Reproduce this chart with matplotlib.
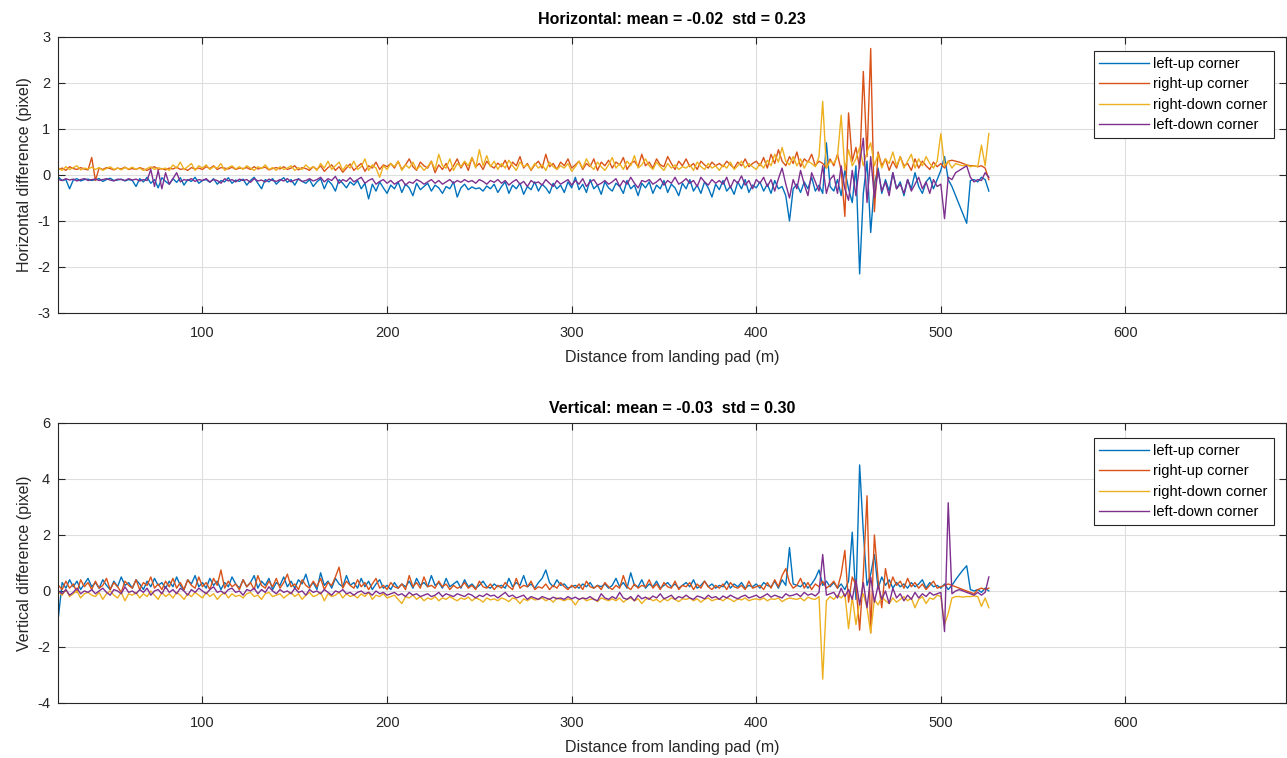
import numpy as np
import matplotlib
matplotlib.use("Agg")
import matplotlib.pyplot as plt

plt.rcParams['font.family'] = ['Liberation Sans', 'DejaVu Sans']
plt.rcParams['axes.unicode_minus'] = False

# distance grid (m): 22, 24, ..., 526
distance = np.arange(22, 527, 2)

labels = ["left-up corner", "right-up corner", "right-down corner", "left-down corner"]
colors = ["#0072BD", "#D95319", "#EDB120", "#7E2F8E"]

h_title = "Horizontal: mean = -0.02  std = 0.23"
v_title = "Vertical: mean = -0.03  std = 0.30"

# ---------------- Horizontal differences (pixel) ----------------
h_left_up = [
    -0.05, -0.12, -0.10, -0.30, -0.11, -0.08, -0.13, -0.10, -0.09, -0.12,
    -0.10, -0.08, -0.14, -0.10, -0.07, -0.12, -0.11, -0.09, -0.13, -0.10,
    -0.12, -0.25, -0.08, -0.15, -0.05, -0.18, -0.10, -0.28, -0.06, -0.14,
    -0.20, -0.08, -0.16, -0.06, -0.22, -0.10, -0.14, -0.05, -0.18, -0.12,
    -0.10, -0.16, -0.08, -0.20, -0.12, -0.15, -0.06, -0.18, -0.11, -0.14,
    -0.09, -0.22, -0.12, -0.05, -0.18, -0.30, -0.10, -0.15, -0.08, -0.20,
    -0.12, -0.06, -0.16, -0.10, -0.22, -0.08, -0.14, -0.18, -0.10, -0.25,
    -0.15, -0.08, -0.30, -0.12, -0.20, -0.35, -0.10, -0.18, -0.28, -0.15,
    -0.22, -0.12, -0.30, -0.18, -0.52, -0.20, -0.35, -0.15, -0.28, -0.40,
    -0.22, -0.30, -0.15, -0.38, -0.20, -0.28, -0.45, -0.18, -0.32, -0.25,
    -0.18, -0.35, -0.22, -0.28, -0.40, -0.25, -0.30, -0.15, -0.48, -0.28,
    -0.20, -0.32, -0.26, -0.30, -0.28, -0.35, -0.24, -0.30, -0.20, -0.38,
    -0.25, -0.15, -0.40, -0.22, -0.30, -0.18, -0.42, -0.25, -0.32, -0.15,
    -0.35, -0.20, -0.28, -0.40, -0.18, -0.30, -0.22, -0.38, -0.15, -0.28,
    -0.05, -0.32, -0.20, -0.38, -0.10, -0.30, -0.22, -0.42, -0.15, -0.28,
    -0.35, -0.18, -0.25, -0.40, -0.12, -0.30, -0.22, -0.45, -0.18, -0.28,
    -0.15, -0.40, -0.22, -0.30, -0.12, -0.38, -0.20, -0.28, -0.45, -0.18,
    -0.30, -0.10, -0.35, -0.22, -0.40, -0.15, -0.28, -0.48, -0.20, -0.32,
    -0.12, -0.35, -0.25, -0.42, -0.15, -0.30, -0.10, -0.38, -0.22, -0.28,
    -0.15, -0.35, -0.20, -0.40, -0.12, -0.30, -0.25, -0.45, -1.00, -0.30,
    -0.20, -0.38, -0.15, -0.30, -0.05, -0.35, -0.22, -0.40, 0.70, -0.25,
    -0.35, -0.10, -0.45, 0.10, -0.30, -0.60, 0.20, -2.15, -0.40, 0.30,
    -1.25, -0.20, 0.15, -0.40, -0.10, -0.35, 0.05, -0.30, -0.15, -0.45,
    -0.10, -0.30, 0.05, -0.25, -0.40, -0.15, -0.05, -0.30, -0.10, 0.10,
    0.40, -0.10, -0.25, -0.45, -0.65, -0.85, -1.05, -0.12, -0.10, -0.15,
    -0.05, -0.10, -0.35,
]
h_right_up = [
    0.12, 0.15, 0.10, 0.18, 0.14, 0.12, 0.16, 0.13, 0.11, 0.38,
    -0.12, 0.15, 0.12, 0.16, 0.14, 0.11, 0.15, 0.13, 0.17, 0.12,
    0.14, 0.12, 0.16, 0.13, 0.10, 0.15, 0.18, 0.12, 0.14, 0.11,
    0.15, 0.13, 0.17, 0.12, 0.14, 0.10, 0.16, 0.13, 0.15, 0.12,
    0.18, 0.14, 0.20, 0.12, 0.16, 0.15, 0.13, 0.17, 0.12, 0.15,
    0.14, 0.16, 0.12, 0.18, 0.13, 0.15, 0.17, 0.11, 0.14, 0.16,
    0.13, 0.18, 0.12, 0.15, 0.20, 0.11, 0.16, 0.14, 0.10, 0.18,
    0.12, 0.20, 0.08, 0.16, 0.22, 0.10, 0.18, 0.06, 0.15, 0.24,
    0.10, 0.18, 0.25, 0.08, 0.20, 0.15, 0.28, 0.12, 0.22, 0.18,
    0.25, 0.15, 0.30, 0.12, 0.22, 0.35, 0.18, 0.10, 0.28, 0.20,
    0.15, 0.30, 0.05, 0.22, 0.12, 0.25, 0.08, 0.20, 0.35, 0.15,
    0.28, 0.10, 0.38, 0.18, 0.25, 0.12, 0.30, 0.20, 0.15, 0.26,
    0.18, 0.32, 0.12, 0.28, 0.20, 0.40, 0.15, 0.25, 0.10, 0.22,
    0.30, 0.15, 0.45, 0.18, 0.25, 0.12, 0.28, 0.20, 0.35, 0.15,
    0.22, 0.30, 0.12, 0.25, 0.18, 0.35, 0.10, 0.28, 0.20, 0.32,
    0.15, 0.28, 0.22, 0.38, 0.12, 0.25, 0.30, 0.18, 0.45, 0.20,
    0.28, 0.15, 0.35, 0.22, 0.18, 0.40, 0.25, 0.12, 0.30, 0.20,
    0.35, 0.18, 0.25, 0.12, 0.30, 0.22, 0.15, 0.28, 0.20, 0.25,
    0.18, 0.30, 0.22, 0.15, 0.28, 0.20, 0.35, 0.18, 0.25, 0.30,
    0.20, 0.38, 0.15, 0.45, 0.25, 0.55, 0.30, 0.20, 0.40, 0.25,
    0.50, 0.18, 0.35, 0.28, 0.45, 0.20, 0.30, 0.25, 0.15, 0.35,
    0.20, 0.45, 0.10, -0.90, 1.35, 0.30, 0.60, 0.15, 2.25, 0.40,
    2.75, -0.80, 0.50, 0.20, 0.35, 0.10, 0.30, 0.15, 0.40, 0.20,
    0.25, 0.10, 0.35, 0.15, 0.30, 0.20, 0.12, 0.28, 0.18, 0.25,
    0.15, 0.30, 0.32, 0.30, 0.28, 0.25, 0.22, 0.20, 0.20, 0.18,
    0.20, 0.15, -0.10,
]
h_right_down = [
    0.15, 0.10, 0.18, 0.12, 0.16, 0.20, 0.11, 0.15, 0.13, 0.17,
    0.12, 0.16, 0.10, 0.14, 0.18, 0.12, 0.15, 0.11, 0.16, 0.13,
    0.17, 0.12, 0.15, 0.10, 0.14, 0.18, 0.12, 0.16, 0.13, 0.15,
    0.10, 0.22, 0.15, 0.28, 0.12, 0.18, 0.25, 0.10, 0.20, 0.15,
    0.22, 0.12, 0.18, 0.15, 0.25, 0.10, 0.16, 0.20, 0.13, 0.18,
    0.12, 0.20, 0.15, 0.10, 0.18, 0.14, 0.22, 0.12, 0.16, 0.10,
    0.18, 0.12, 0.15, 0.20, 0.10, 0.16, 0.12, 0.22, 0.14, 0.18,
    0.10, 0.25, 0.15, 0.30, 0.12, 0.20, 0.28, 0.10, 0.22, 0.15,
    0.30, 0.12, 0.18, 0.35, 0.10, 0.22, 0.15, -0.05, 0.20, 0.12,
    0.25, 0.18, 0.30, 0.10, 0.22, 0.15, 0.28, 0.12, 0.20, 0.10,
    0.18, 0.30, 0.12, 0.45, 0.20, 0.15, 0.35, 0.10, 0.25, 0.18,
    0.30, 0.20, 0.38, 0.15, 0.55, 0.20, 0.42, 0.18, 0.30, 0.12,
    0.25, 0.15, 0.32, 0.20, 0.10, 0.28, 0.18, 0.22, 0.12, 0.25,
    0.15, 0.22, 0.10, 0.28, 0.18, 0.12, 0.20, 0.15, 0.25, 0.08,
    0.18, 0.30, 0.15, 0.35, 0.20, 0.12, 0.28, 0.18, 0.10, 0.22,
    0.38, 0.15, 0.25, 0.12, 0.30, 0.20, 0.42, 0.15, 0.22, 0.35,
    0.20, 0.12, 0.28, 0.18, 0.10, 0.25, 0.15, 0.22, 0.12, 0.18,
    0.15, 0.22, 0.10, 0.28, 0.18, 0.12, 0.25, 0.15, 0.20, 0.10,
    0.22, 0.15, 0.28, 0.12, 0.20, 0.30, 0.15, 0.25, 0.18, 0.12,
    0.25, 0.15, 0.32, 0.20, 0.45, 0.28, 0.60, 0.30, 0.22, 0.40,
    0.20, 0.35, 0.15, 0.30, 0.25, 0.18, 0.40, 1.60, 0.15, 0.30,
    0.25, 0.40, 1.30, 0.10, 0.55, 0.20, 0.35, 0.60, 0.20, 0.50,
    0.70, 0.20, 0.45, 0.15, 0.35, 0.25, 0.50, 0.20, 0.40, 0.15,
    0.30, 0.45, 0.15, 0.35, 0.20, 0.40, 0.25, 0.15, 0.30, 0.90,
    0.20, 0.30, 0.15, 0.25, 0.22, 0.20, 0.22, 0.18, 0.20, 0.18,
    0.65, 0.20, 0.90,
]
h_left_down = [
    -0.10, -0.12, -0.08, -0.11, -0.09, -0.13, -0.10, -0.08, -0.12, -0.10,
    -0.09, -0.12, -0.10, -0.08, -0.11, -0.13, -0.09, -0.10, -0.12, -0.08,
    -0.11, -0.09, -0.13, -0.10, -0.12, 0.12, -0.25, 0.10, -0.30, 0.05,
    -0.20, -0.08, 0.05, -0.15, -0.10, -0.12, -0.08, -0.14, -0.10, -0.12,
    -0.08, -0.15, -0.10, -0.12, -0.18, -0.08, -0.13, -0.10, -0.15, -0.09,
    -0.12, -0.10, -0.16, -0.08, -0.13, -0.11, -0.15, -0.09, -0.12, -0.14,
    -0.10, -0.13, -0.08, -0.15, -0.11, -0.09, -0.14, -0.12, -0.08, -0.13,
    -0.10, -0.05, -0.15, -0.08, -0.12, -0.03, -0.18, -0.10, -0.14, -0.06,
    -0.15, -0.10, -0.05, -0.18, -0.12, -0.08, -0.20, -0.14, -0.10, -0.18,
    -0.12, -0.20, -0.15, -0.10, -0.22, -0.15, -0.18, -0.10, -0.14, -0.20,
    -0.15, -0.10, -0.18, -0.12, -0.20, -0.15, -0.10, -0.18, -0.12, -0.16,
    -0.10, -0.15, -0.12, -0.18, -0.10, -0.14, -0.20, -0.12, -0.16, -0.10,
    -0.18, -0.12, -0.22, -0.15, -0.10, -0.20, -0.14, -0.25, -0.12, -0.18,
    -0.15, -0.22, -0.10, -0.18, -0.25, -0.12, -0.20, -0.15, -0.10, -0.22,
    -0.12, -0.20, -0.08, -0.25, -0.15, -0.10, -0.22, -0.18, -0.12, -0.20,
    -0.15, -0.08, -0.25, -0.12, -0.20, -0.05, -0.18, -0.28, -0.12, -0.15,
    -0.10, -0.20, -0.15, -0.08, -0.22, -0.12, -0.18, -0.05, -0.20, -0.15,
    -0.08, -0.18, -0.12, -0.25, -0.05, -0.15, -0.22, -0.10, -0.18, -0.12,
    -0.20, -0.05, -0.28, -0.10, -0.18, -0.02, -0.22, -0.12, -0.30, -0.10,
    -0.18, -0.05, -0.25, -0.10, -0.35, -0.08, 0.15, -0.20, -0.50, -0.10,
    -0.30, 0.10, -0.20, -0.45, 0.05, -0.15, -0.35, 0.20, -0.40, -0.10,
    0.00, -0.40, 0.20, -0.30, -0.55, 0.10, -0.45, 0.25, 0.80, -0.60,
    0.40, -0.50, 0.10, -0.35, -0.15, -0.45, 0.05, -0.30, -0.20, -0.40,
    -0.10, -0.35, -0.20, -0.05, -0.30, -0.15, -0.40, -0.10, -0.25, -0.20,
    -0.95, -0.05, -0.10, 0.05, 0.10, 0.15, 0.20, -0.05, -0.15, -0.10,
    -0.12, 0.05, -0.05,
]

# ---------------- Vertical differences (pixel) ----------------
v_left_up = [
    -0.90, 0.30, 0.10, 0.40, 0.15, 0.35, 0.05, 0.25, 0.45, 0.15,
    0.30, 0.10, 0.40, 0.20, 0.05, 0.35, 0.15, 0.50, 0.20, 0.30,
    0.10, 0.40, 0.25, 0.05, 0.35, 0.15, 0.45, 0.20, 0.30, 0.10,
    0.35, 0.15, 0.50, 0.20, 0.05, 0.40, 0.25, 0.55, 0.15, 0.30,
    0.10, 0.45, 0.20, 0.35, 0.05, 0.30, 0.15, 0.50, 0.25, 0.10,
    0.40, 0.15, 0.30, 0.55, 0.10, 0.35, 0.20, 0.45, 0.05, 0.30,
    0.20, 0.50, 0.15, 0.35, 0.10, 0.40, 0.25, 0.60, 0.15, 0.30,
    0.05, 0.65, 0.20, 0.35, 0.10, 0.45, 0.25, 0.15, 0.55, 0.20,
    0.30, 0.10, 0.45, 0.15, 0.35, 0.05, 0.25, 0.40, 0.10, 0.20,
    0.05, 0.30, 0.10, 0.25, 0.15, 0.35, 0.10, 0.45, 0.20, 0.30,
    0.15, 0.55, 0.20, 0.30, 0.10, 0.45, 0.15, 0.25, 0.35, 0.10,
    0.40, 0.15, 0.25, 0.10, 0.20, 0.35, 0.15, 0.10, 0.25, 0.15,
    0.20, 0.10, 0.45, 0.15, 0.30, 0.20, 0.55, 0.15, 0.25, 0.10,
    0.30, 0.45, 0.75, 0.30, 0.15, 0.40, 0.20, 0.25, 0.10, 0.15,
    0.20, 0.10, 0.25, 0.15, 0.30, 0.10, 0.20, 0.15, 0.25, 0.10,
    0.20, 0.45, 0.15, 0.30, 0.10, 0.65, 0.20, 0.15, 0.40, 0.10,
    0.25, 0.15, 0.35, 0.10, 0.20, 0.30, 0.15, 0.25, 0.10, 0.20,
    0.30, 0.15, 0.40, 0.10, 0.20, 0.35, 0.15, 0.25, 0.10, 0.20,
    0.15, 0.35, 0.10, 0.25, 0.15, 0.30, 0.10, 0.20, 0.15, 0.25,
    0.10, 0.30, 0.20, 0.15, 0.35, 0.10, 0.40, 0.20, 1.55, 0.25,
    0.20, 0.15, 0.30, 0.10, 0.25, 0.45, 0.75, 0.20, 0.35, 0.15,
    0.30, 0.10, 0.25, 0.05, 0.35, 2.10, -0.30, 4.50, 2.10, 0.20,
    0.60, 1.30, 0.10, 0.50, 0.20, 0.40, 0.10, 0.30, 0.15, 0.25,
    0.10, 0.30, 0.15, 0.25, 0.40, 0.10, 0.30, 0.15, 0.20, 0.10,
    0.25, 0.05, 0.20, 0.40, 0.58, 0.75, 0.90, 0.05, 0.00, 0.05,
    -0.05, 0.10, 0.00,
]
v_right_up = [
    0.20, 0.05, 0.35, 0.10, 0.25, -0.05, 0.40, 0.15, 0.30, 0.05,
    0.35, 0.10, 0.20, 0.45, 0.05, 0.30, 0.15, -0.05, 0.35, 0.20,
    0.10, 0.40, 0.05, 0.30, 0.20, 0.50, 0.10, 0.25, 0.05, 0.35,
    0.15, 0.45, 0.10, 0.30, 0.05, 0.40, 0.20, 0.10, 0.50, 0.15,
    0.30, 0.05, 0.45, 0.20, 0.75, 0.10, 0.35, 0.15, 0.25, 0.05,
    0.40, 0.15, 0.30, 0.05, 0.55, 0.20, 0.10, 0.35, 0.15, 0.45,
    0.10, 0.30, 0.60, 0.15, 0.25, 0.05, 0.40, 0.20, 0.10, 0.35,
    0.15, 0.45, 0.05, 0.30, 0.20, 0.50, 0.85, 0.10, 0.35, 0.20,
    0.10, 0.40, 0.15, 0.30, 0.05, 0.25, 0.45, 0.10, 0.20, 0.05,
    0.30, 0.15, 0.10, 0.25, 0.05, 0.55, 0.15, 0.30, 0.10, 0.50,
    0.15, 0.20, 0.10, 0.35, 0.15, 0.25, 0.05, 0.20, 0.10, 0.15,
    0.30, 0.10, 0.20, 0.05, 0.35, 0.15, 0.10, 0.25, 0.05, 0.20,
    0.10, 0.30, 0.15, 0.05, 0.45, 0.10, 0.20, 0.15, 0.35, 0.05,
    0.15, 0.10, 0.25, 0.05, 0.20, 0.10, 0.30, 0.15, 0.05, 0.20,
    0.10, 0.25, 0.05, 0.35, 0.15, 0.10, 0.20, 0.05, 0.30, 0.15,
    0.05, 0.20, 0.10, 0.55, 0.15, 0.05, 0.25, 0.10, 0.20, 0.15,
    0.40, 0.10, 0.25, 0.05, 0.30, 0.15, 0.10, 0.35, 0.05, 0.20,
    0.15, 0.30, 0.05, 0.25, 0.10, 0.35, 0.15, 0.05, 0.20, 0.10,
    0.25, 0.05, 0.30, 0.15, 0.10, 0.20, 0.05, 0.35, 0.10, 0.15,
    0.20, 0.05, 0.30, 0.10, 0.40, 0.15, 0.55, 0.80, 0.30, 0.10,
    0.20, 0.45, 0.10, 0.30, 0.05, 0.25, 0.15, 0.35, 0.10, 0.20,
    0.35, 0.10, 0.60, 1.45, -0.40, 0.50, 0.20, -1.40, 0.60, 3.40,
    -1.50, 2.00, 0.40, -0.60, 0.80, 0.10, 0.50, 0.20, 0.35, 0.10,
    0.45, 0.15, 0.30, 0.10, 0.25, 0.05, 0.20, 0.35, 0.10, 0.15,
    0.20, 0.25, 0.20, 0.15, 0.10, 0.05, 0.00, -0.05, -0.10, 0.05,
    0.10, 0.05, 0.10,
]
v_right_down = [
    -0.05, -0.15, 0.05, -0.20, -0.10, 0.00, -0.25, -0.10, -0.05, -0.15,
    -0.20, -0.05, -0.30, -0.10, 0.00, -0.15, -0.25, -0.05, -0.35, -0.10,
    -0.15, -0.05, -0.25, -0.10, -0.20, 0.00, -0.15, -0.30, -0.05, -0.20,
    -0.10, -0.25, -0.05, -0.15, -0.30, -0.10, -0.20, -0.05, -0.15, -0.25,
    -0.05, -0.20, -0.10, -0.30, -0.15, -0.05, -0.25, -0.10, -0.20, -0.15,
    -0.25, -0.10, -0.05, -0.20, -0.15, -0.30, -0.10, -0.05, -0.20, -0.15,
    -0.10, -0.25, -0.15, -0.05, -0.20, -0.10, -0.30, -0.15, -0.05, -0.20,
    -0.15, -0.05, -0.35, -0.10, -0.20, -0.15, -0.05, -0.25, -0.10, -0.20,
    -0.15, -0.25, -0.10, -0.20, -0.05, -0.30, -0.15, -0.20, -0.10, -0.25,
    -0.20, -0.15, -0.30, -0.45, -0.20, -0.25, -0.15, -0.30, -0.20, -0.35,
    -0.25, -0.30, -0.20, -0.35, -0.25, -0.30, -0.20, -0.28, -0.35, -0.25,
    -0.30, -0.22, -0.35, -0.25, -0.30, -0.40, -0.25, -0.32, -0.28, -0.35,
    -0.25, -0.30, -0.38, -0.25, -0.30, -0.45, -0.28, -0.35, -0.25, -0.32,
    -0.30, -0.25, -0.35, -0.28, -0.40, -0.25, -0.30, -0.35, -0.28, -0.32,
    -0.50, -0.30, -0.25, -0.35, -0.30, -0.28, -0.38, -0.25, -0.30, -0.35,
    -0.28, -0.35, -0.25, -0.40, -0.30, -0.25, -0.35, -0.28, -0.45, -0.30,
    -0.25, -0.35, -0.30, -0.40, -0.28, -0.35, -0.25, -0.30, -0.38, -0.28,
    -0.30, -0.25, -0.35, -0.28, -0.40, -0.30, -0.25, -0.35, -0.30, -0.28,
    -0.35, -0.25, -0.30, -0.38, -0.28, -0.32, -0.25, -0.35, -0.30, -0.28,
    -0.32, -0.25, -0.35, -0.28, -0.30, -0.25, -0.38, -0.30, -0.25, -0.28,
    -0.30, -0.25, -0.35, -0.22, -0.28, -0.30, -0.20, -3.15, -0.35, -0.20,
    -0.30, -0.15, -0.25, -0.10, -1.35, -0.20, -1.20, -0.40, -0.10, -0.60,
    -1.50, -0.30, -0.50, -0.20, -0.35, -0.45, -0.25, -0.40, -0.30, -0.20,
    -0.35, -0.25, -0.60, -0.30, -0.20, -0.45, -0.25, -0.30, -0.15, -0.20,
    -1.20, -0.80, -0.25, -0.20, -0.20, -0.22, -0.20, -0.20, -0.18, -0.20,
    -0.55, -0.25, -0.60,
]
v_left_down = [
    0.00, -0.10, 0.05, -0.15, -0.05, 0.10, -0.10, 0.00, -0.05, 0.05,
    -0.10, 0.00, 0.10, -0.05, -0.15, 0.05, 0.00, -0.10, 0.15, -0.05,
    0.00, -0.10, 0.05, -0.05, 0.10, -0.15, 0.00, 0.05, -0.10, 0.15,
    -0.05, 0.05, -0.10, 0.10, 0.00, -0.15, 0.05, -0.05, 0.10, 0.00,
    -0.10, 0.05, 0.15, -0.05, 0.00, -0.10, 0.05, 0.10, -0.05, 0.00,
    -0.15, 0.05, 0.00, 0.10, -0.10, 0.05, -0.05, 0.15, 0.00, -0.10,
    0.05, -0.05, 0.00, -0.10, 0.10, -0.05, 0.00, -0.15, 0.05, -0.05,
    0.00, -0.10, 0.05, -0.05, -0.15, 0.00, -0.05, 0.05, -0.10, -0.05,
    -0.15, -0.05, 0.00, -0.10, -0.05, -0.15, 0.00, -0.10, -0.05, -0.15,
    -0.10, -0.05, -0.15, -0.10, -0.20, -0.05, -0.15, -0.10, -0.20, -0.15,
    -0.10, -0.20, -0.15, -0.05, -0.20, -0.10, -0.15, -0.20, -0.10, -0.15,
    -0.20, -0.10, -0.15, -0.25, -0.15, -0.20, -0.10, -0.18, -0.15, -0.25,
    -0.15, -0.05, -0.20, -0.15, -0.25, -0.20, -0.15, -0.30, -0.20, -0.25,
    -0.30, -0.20, -0.25, -0.30, -0.22, -0.28, -0.25, -0.30, -0.20, -0.28,
    -0.22, -0.30, -0.25, -0.28, -0.20, -0.30, -0.35, -0.10, -0.25, -0.30,
    -0.20, -0.28, -0.05, -0.25, -0.30, -0.20, -0.35, -0.15, -0.28, -0.22,
    -0.30, -0.18, -0.25, -0.10, -0.28, -0.22, -0.15, -0.30, -0.20, -0.25,
    -0.15, -0.25, -0.30, -0.18, -0.22, -0.28, -0.15, -0.25, -0.20, -0.30,
    -0.18, -0.25, -0.15, -0.22, -0.28, -0.20, -0.15, -0.25, -0.20, -0.15,
    -0.25, -0.18, -0.10, -0.22, -0.15, -0.20, -0.25, -0.10, -0.18, -0.15,
    -0.10, -0.20, -0.05, -0.15, -0.10, -0.18, -0.05, 1.30, -0.15, -0.10,
    -0.05, -0.25, 0.10, -0.20, 0.05, -0.30, 0.40, -0.50, 0.30, -0.60,
    0.50, -0.40, 0.20, -0.30, 0.00, -0.45, 0.10, -0.25, -0.10, -0.35,
    -0.15, -0.30, -0.05, -0.25, -0.10, -0.20, -0.05, -0.15, -0.10, -0.05,
    -1.45, 3.15, -0.10, 0.00, 0.05, 0.00, -0.05, -0.10, -0.15, -0.05,
    -0.15, -0.05, 0.50,
]

x_ticks = [100, 200, 300, 400, 500, 600]
h_yticks = [-3, -2, -1, 0, 1, 2, 3]
v_yticks = [-4, -2, 0, 2, 4, 6]

fig = plt.figure(figsize=(12.87, 7.58), dpi=100)
ax1 = fig.add_axes([0.04545, 0.5871, 0.9538, 0.3641])
ax2 = fig.add_axes([0.04545, 0.0726, 0.9538, 0.3694])

def style(ax, series, title, ylabel, yticks, ylim, leg_y, title_pad):
    for ys, c, lab in zip(series, colors, labels):
        ax.plot(distance, ys, color=c, lw=1.0, label=lab)
    ax.set_xlim(22, 687)
    ax.set_ylim(*ylim)
    ax.set_xticks(x_ticks)
    ax.set_yticks(yticks)
    ax.grid(True, color='#dedede', lw=0.8)
    ax.set_axisbelow(True)
    ax.tick_params(direction='in', top=True, right=True, length=5, width=0.8,
                   labelsize=10.5, colors='#262626')
    ax.tick_params(axis='x', pad=9.5)
    ax.tick_params(axis='y', pad=6)
    for sp in ax.spines.values():
        sp.set_color('#262626')
        sp.set_linewidth(0.8)
    ax.set_title(title, fontsize=11.5, fontweight='bold', pad=title_pad)
    ax.set_ylabel(ylabel, fontsize=11.5, color='#262626', labelpad=4)
    ax.set_xlabel("Distance from landing pad (m)", fontsize=11.5, color='#262626', labelpad=7)
    leg = ax.legend(loc='upper right', bbox_to_anchor=(0.9898, leg_y), borderaxespad=0,
                    fontsize=10.5, fancybox=False, framealpha=1, edgecolor='#262626',
                    handlelength=3.4, handletextpad=0.3, borderpad=0.4, labelspacing=0.45)
    leg.get_frame().set_linewidth(0.8)

style(ax1, [h_left_up, h_right_up, h_right_down, h_left_down], h_title,
      "Horizontal difference (pixel)", h_yticks, (-3, 3), 0.950, 9)
style(ax2, [v_left_up, v_right_up, v_right_down, v_left_down], v_title,
      "Vertical difference (pixel)", v_yticks, (-4, 6), 0.947, 7)

fig.savefig("out.png", dpi=100)
